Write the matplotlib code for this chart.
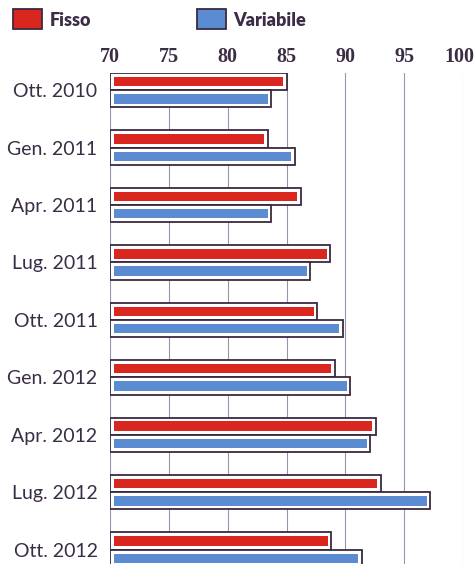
import matplotlib.pyplot as plt
import matplotlib.transforms as mtransforms
import numpy as np
from matplotlib.patches import Rectangle

categorie = ['Ott. 2010', 'Gen. 2011', 'Apr. 2011', 'Lug. 2011', 'Ott. 2011',
             'Gen. 2012', 'Apr. 2012', 'Lug. 2012', 'Ott. 2012']
fisso = [85.0, 83.4, 86.2, 88.7, 87.6, 89.1, 92.6, 93.0, 88.8]
variabile = [83.7, 85.7, 83.7, 87.0, 89.8, 90.4, 92.1, 97.2, 91.4]
ticks = [70, 75, 80, 85, 90, 95, 100]

rosso = '#d9261f'
blu = '#5b8bd0'
bordo = '#3a2a40'
testo = '#3b2d45'

fig = plt.figure(figsize=(4.75, 5.64), dpi=100)
ax = fig.add_axes([0.2316, 0.0, 0.7432, 0.8706])

y = np.arange(len(categorie))
h = 0.3
ins = 0.3

for i in range(len(categorie)):
    for val, col, off in [(fisso[i], rosso, -h / 2), (variabile[i], blu, h / 2)]:
        # box esterno bianco con bordo scuro
        ax.barh(y[i] + off, val - 70, left=70, height=h, color='white',
                edgecolor=bordo, linewidth=1.3, zorder=3)
        # barra colorata interna
        ax.barh(y[i] + off, val - 70 - 2 * ins, left=70 + ins, height=h * 0.55,
                color=col, edgecolor='none', zorder=4)

ax.set_xlim(70, 100)
ax.set_ylim(8.25, -0.3)
ax.set_xticks(ticks)
ax.xaxis.tick_top()
ax.tick_params(axis='x', length=0, pad=4, labelsize=14.5, labelcolor=testo)
for lab in ax.get_xticklabels():
    lab.set_family('Liberation Serif')
    lab.set_fontweight('bold')
# sposta un poco a sinistra il "100" perche' non esca dal bordo
ultimo = ax.get_xticklabels()[-1]
ultimo.set_transform(ultimo.get_transform() +
                     mtransforms.ScaledTranslation(-4 / 100, 0, fig.dpi_scale_trans))
ax.set_yticks(y)
ax.set_yticklabels(categorie, fontsize=14, color=testo, family='Lato')
ax.tick_params(axis='y', length=0, pad=9)
for s in ax.spines.values():
    s.set_visible(False)
ax.grid(axis='x', color='#9a92b2', linewidth=0.8, zorder=0)
ax.set_axisbelow(True)

# legenda
for x0, col, nome in [(0.027, rosso, 'Fisso'), (0.414, blu, 'Variabile')]:
    fig.patches.append(Rectangle((x0, 0.948), 0.062, 0.036, transform=fig.transFigure,
                                 facecolor=col, edgecolor=bordo, linewidth=1.3))
    fig.text(x0 + 0.078, 0.964, nome, fontsize=13, fontweight='heavy', color=testo,
             family='Lato', va='center')

plt.savefig('out.png')
